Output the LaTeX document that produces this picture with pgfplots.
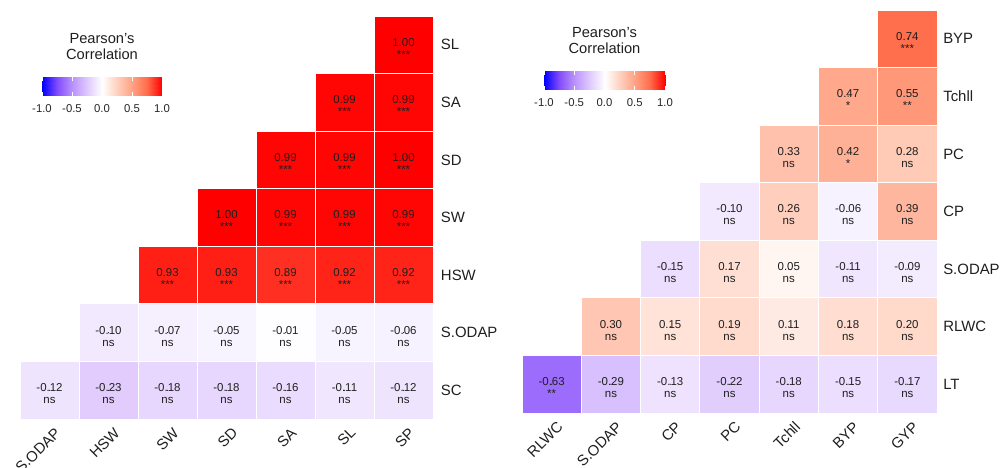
\documentclass[border=0pt]{standalone}
\usepackage{pgfplots}
\pgfplotsset{compat=1.18}
\usepackage{pgfplotstable}
\usepackage{fontspec}
\setmainfont{Liberation Sans}

\pgfdeclareplotmark{cellL}{%
  \pgfpathrectanglecorners{\pgfpoint{-22.125pt}{-21.59pt}}{\pgfpoint{22.125pt}{21.59pt}}%
  \pgfusepathqfillstroke}
\pgfdeclareplotmark{cellR}{%
  \pgfpathrectanglecorners{\pgfpoint{-22.23pt}{-21.59pt}}{\pgfpoint{22.23pt}{21.59pt}}%
  \pgfusepathqfillstroke}

\pgfplotstableread{
x y r sig
0 0 -0.12 ns
1 0 -0.23 ns
2 0 -0.18 ns
3 0 -0.18 ns
4 0 -0.16 ns
5 0 -0.11 ns
6 0 -0.12 ns
1 1 -0.10 ns
2 1 -0.07 ns
3 1 -0.05 ns
4 1 -0.01 ns
5 1 -0.05 ns
6 1 -0.06 ns
2 2 0.93 ***
3 2 0.93 ***
4 2 0.89 ***
5 2 0.92 ***
6 2 0.92 ***
3 3 1.00 ***
4 3 0.99 ***
5 3 0.99 ***
6 3 0.99 ***
4 4 0.99 ***
5 4 0.99 ***
6 4 1.00 ***
5 5 0.99 ***
6 5 0.99 ***
6 6 1.00 ***
}\leftdata

\pgfplotstableread{
x y r sig
0 0 -0.63 **
1 0 -0.29 ns
2 0 -0.13 ns
3 0 -0.22 ns
4 0 -0.18 ns
5 0 -0.15 ns
6 0 -0.17 ns
1 1 0.30 ns
2 1 0.15 ns
3 1 0.19 ns
4 1 0.11 ns
5 1 0.18 ns
6 1 0.20 ns
2 2 -0.15 ns
3 2 0.17 ns
4 2 0.05 ns
5 2 -0.11 ns
6 2 -0.09 ns
3 3 -0.10 ns
4 3 0.26 ns
5 3 -0.06 ns
6 3 0.39 ns
4 4 0.33 ns
5 4 0.42 *
6 4 0.28 ns
5 5 0.47 *
6 5 0.55 **
6 6 0.74 ***
}\rightdata

% colour-bar gradient: triangles with meta = x (one segment per colormap stop)
\pgfplotstableread{
x y m
-1 0 -1
-0.75 0 -0.75
-0.75 1 -0.75
-1 0 -1
-0.75 1 -0.75
-1 1 -1
-0.75 0 -0.75
-0.5 0 -0.5
-0.5 1 -0.5
-0.75 0 -0.75
-0.5 1 -0.5
-0.75 1 -0.75
-0.5 0 -0.5
-0.25 0 -0.25
-0.25 1 -0.25
-0.5 0 -0.5
-0.25 1 -0.25
-0.5 1 -0.5
-0.25 0 -0.25
0 0 0
0 1 0
-0.25 0 -0.25
0 1 0
-0.25 1 -0.25
0 0 0
0.25 0 0.25
0.25 1 0.25
0 0 0
0.25 1 0.25
0 1 0
0.25 0 0.25
0.5 0 0.5
0.5 1 0.5
0.25 0 0.25
0.5 1 0.5
0.25 1 0.25
0.5 0 0.5
0.75 0 0.75
0.75 1 0.75
0.5 0 0.5
0.75 1 0.75
0.5 1 0.5
0.75 0 0.75
1 0 1
1 1 1
0.75 0 0.75
1 1 1
0.75 1 0.75
}\bardata

\pgfplotsset{
  corrcm/.style={colormap={corr}{rgb255=(0,0,255) rgb255=(130,75,252) rgb255=(185,145,253) rgb255=(222,200,253) rgb255=(255,255,255) rgb255=(255,208,190) rgb255=(255,162,132) rgb255=(255,108,75) rgb255=(255,0,0)}},
  heat/.style={
    corrcm, scale only axis, xmin=-0.5,xmax=6.5,ymin=-0.5,ymax=6.5,
    point meta min=-1, point meta max=1,
    axis line style={draw=none}, major tick length=0pt, clip=false,
    xtick={0,...,6}, ytick={0,...,6}, yticklabel pos=right,
    tick label style={font=\fontsize{11.2}{13}\selectfont, text=black!88},
    xticklabel style={inner sep=0pt, xshift=3.5pt, yshift=-5.5pt, rotate=45, anchor=north east},
    yticklabel style={inner sep=0pt, anchor=west},
  },
  cbar/.style={
    corrcm, scale only axis, height=14.25pt, xmin=-1, xmax=1, ymin=0, ymax=1,
    point meta min=-1, point meta max=1, axis on top, clip=false,
    axis line style={draw=none}, ytick=\empty,
    xtick={-1,-0.5,0,0.5,1}, xticklabels={-1.0,-0.5,0.0,0.5,1.0},
    xtick pos=both, tick align=inside,
    major tick length=3pt, xtick style={white, line width=0.6pt},
    xticklabel style={font=\fontsize{8.5}{10}\selectfont, text=black!85, inner sep=0pt, yshift=-6pt},
    title={Pearson's\\Correlation},
    title style={align=center, font=\fontsize{11}{12}\selectfont, text=black!88, inner sep=0pt, at={(0.5,1)}, anchor=south, yshift=6.75pt},
  },
  cells/.style={scatter, only marks, mark=#1, point meta=explicit,
    scatter/use mapped color={draw=white, fill=mapped color},
    mark options={line width=0.6pt},
  },
  celltext/.style={only marks, mark=*, mark size=0.01pt, mark options={draw=none, fill=none},
    point meta=explicit symbolic, nodes near coords,
    every node near coord/.append style={anchor=base, yshift=#1, font=\fontsize{8.6}{9.3}\selectfont, text=black!88, inner sep=0pt},
  },
  gradient/.style={patch, patch type=triangle, shader=interp, point meta=explicit},
}

\begin{document}
\begin{tikzpicture}
\useasboundingbox (0,0) rectangle (756pt,351pt);
\begin{axis}[heat, at={(15pt,36.75pt)}, anchor=south west, width=309.75pt, height=302.25pt,
  xticklabels={S.ODAP,HSW,SW,SD,SA,SL,SP},
  yticklabels={SC,S.ODAP,HSW,SW,SD,SA,SL},
  yticklabel style={xshift=5.8pt}]
\addplot[cells=cellL] table[x=x,y=y,meta=r] \leftdata;
\addplot[celltext=-1.1pt] table[x=x,y=y,meta=r] \leftdata;
\addplot[celltext=-10.1pt] table[x=x,y=y,meta=sig] \leftdata;
\end{axis}
\begin{axis}[heat, at={(391.5pt,41.25pt)}, anchor=south west, width=311.25pt, height=302.25pt,
  xticklabels={RLWC,S.ODAP,CP,PC,Tchll,BYP,GYP},
  yticklabels={LT,RLWC,S.ODAP,CP,PC,Tchll,BYP},
  yticklabel style={xshift=4.5pt}]
\addplot[cells=cellR] table[x=x,y=y,meta=r] \rightdata;
\addplot[celltext=-1.1pt] table[x=x,y=y,meta=r] \rightdata;
\addplot[celltext=-10.1pt] table[x=x,y=y,meta=sig] \rightdata;
\end{axis}
\begin{axis}[cbar, at={(31.5pt,279pt)}, anchor=south west, width=90pt]
\addplot[gradient] table[x=x,y=y,meta=m] \bardata;
\end{axis}
\begin{axis}[cbar, at={(408pt,283.5pt)}, anchor=south west, width=90.75pt]
\addplot[gradient] table[x=x,y=y,meta=m] \bardata;
\end{axis}
\end{tikzpicture}
\end{document}
